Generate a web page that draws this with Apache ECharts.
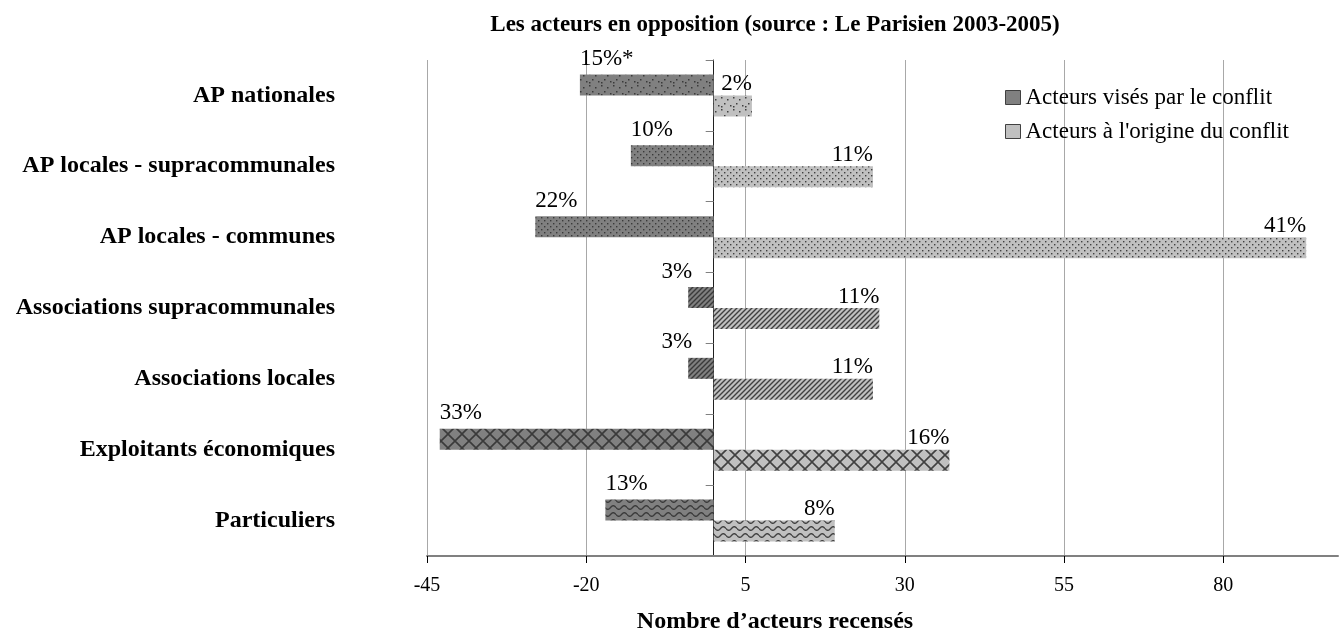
<!DOCTYPE html>
<html>
<head>
<meta charset="utf-8">
<script src="https://cdn.jsdelivr.net/npm/echarts@6/dist/echarts.min.js"></script>
<style>
  html, body { margin: 0; padding: 0; background: #ffffff; }
  #chart { width: 1342px; height: 630px; }
</style>
</head>
<body>
<div id="chart"></div>
<script>
// Actor categories, top to bottom
const categories = [
  'AP nationales',
  'AP locales - supracommunales',
  'AP locales - communes',
  'Associations supracommunales',
  'Associations locales',
  'Exploitants économiques',
  'Particuliers'
];
// Number of actors targeted by a conflict (drawn to the left of zero)
const visesValues = [-21, -13, -28, -4, -4, -43, -17];
// Number of actors initiating a conflict (drawn to the right of zero)
const origineValues = [6, 25, 93, 26, 25, 37, 19];
// Share labels printed next to each bar
const visesLabels = ['15%*', '10%', '22%', '3%', '3%', '33%', '13%'];
const origineLabels = ['2%', '11%', '41%', '11%', '11%', '16%', '8%'];
// Value axis range and tick step
const xMin = -45;
const xStep = 25;
const xMax = 98;
// Fill pattern used for each category row
const patternKinds = ['confetti', 'dots', 'dots', 'stripes', 'stripes', 'lattice', 'waves'];

const SERIF = '"Liberation Serif", "DejaVu Serif", serif';
const DARK_BG = '#808080';
const LIGHT_BG = '#c0c0c0';
const LABEL_SIZE = 23;

// Builds a small repeating canvas tile for a hatch/fill style
function makePattern(kind, bg, ink) {
  const c = document.createElement('canvas');
  let w = 8, h = 8;
  if (kind === 'confetti') { w = 12; h = 12; }
  if (kind === 'dots') { w = 6; h = 6; }
  if (kind === 'stripes') { w = 5; h = 5; }
  if (kind === 'lattice') { w = 14; h = 14; }
  if (kind === 'waves') { w = 11; h = 7; }
  c.width = w; c.height = h;
  const ctx = c.getContext('2d');
  ctx.fillStyle = bg;
  ctx.fillRect(0, 0, w, h);
  ctx.fillStyle = ink;
  ctx.strokeStyle = ink;
  if (kind === 'confetti') {
    [[1, 1], [7, 3], [4, 7], [10, 9], [1, 10]].forEach(function (p) {
      ctx.fillRect(p[0], p[1], 1.5, 1.5);
    });
  } else if (kind === 'dots') {
    ctx.fillRect(1, 1, 1.4, 1.4);
    ctx.fillRect(4, 4, 1.4, 1.4);
  } else if (kind === 'stripes') {
    ctx.lineWidth = 1.4;
    ctx.beginPath();
    ctx.moveTo(-1, h + 1); ctx.lineTo(w + 1, -1);
    ctx.moveTo(-1, 1); ctx.lineTo(1, -1);
    ctx.moveTo(w - 1, h + 1); ctx.lineTo(w + 1, h - 1);
    ctx.stroke();
  } else if (kind === 'lattice') {
    ctx.lineWidth = 1.6;
    ctx.beginPath();
    ctx.moveTo(0, 0); ctx.lineTo(w, h);
    ctx.moveTo(0, h); ctx.lineTo(w, 0);
    ctx.stroke();
  } else if (kind === 'waves') {
    ctx.lineWidth = 1.4;
    ctx.beginPath();
    for (let x = 0; x <= w; x += 0.5) {
      const y = h / 2 + 1.8 * Math.sin((x / w) * Math.PI * 2);
      if (x === 0) ctx.moveTo(x, y); else ctx.lineTo(x, y);
    }
    ctx.stroke();
  }
  return { image: c, repeat: 'repeat' };
}

// Width of a label string in the label font
const measureCtx = document.createElement('canvas').getContext('2d');
function textWidth(str) {
  measureCtx.font = LABEL_SIZE + 'px ' + SERIF;
  return measureCtx.measureText(str).width;
}

const chart = echarts.init(document.getElementById('chart'), null, { renderer: 'canvas' });

const labelText = { fontFamily: SERIF, fontSize: LABEL_SIZE, color: '#000' };

const option = {
  animation: false,
  backgroundColor: '#ffffff',
  title: [
    {
      text: 'Les acteurs en opposition (source : Le Parisien 2003-2005)',
      left: 770, top: 9, textAlign: 'center',
      textStyle: { fontFamily: SERIF, fontSize: 23, fontWeight: 'bold', color: '#000' }
    },
    {
      text: 'Nombre d’acteurs recensés',
      left: 770, top: 605, textAlign: 'center',
      textStyle: { fontFamily: SERIF, fontSize: 24, fontWeight: 'bold', color: '#000' }
    }
  ],
  legend: {
    orient: 'vertical',
    left: 1000, top: 81,
    itemWidth: 15, itemHeight: 14, itemGap: 11,
    icon: 'rect',
    itemStyle: { borderColor: '#404040', borderWidth: 1 },
    textStyle: { fontFamily: SERIF, fontSize: 23, color: '#000' },
    data: ['Acteurs visés par le conflit', 'Acteurs à l\'origine du conflit']
  },
  grid: { left: 427, right: 4, top: 60, bottom: 74, containLabel: false },
  xAxis: {
    type: 'value', min: xMin, max: xMax, interval: xStep,
    axisLine: { show: true, onZero: false, lineStyle: { color: '#808080', width: 2 } },
    axisTick: { show: true, length: 7, lineStyle: { color: '#000', width: 1 } },
    axisLabel: { margin: 20, showMaxLabel: false, fontFamily: SERIF, fontSize: 20, color: '#000' },
    splitLine: { show: true, showMaxLine: false, lineStyle: { color: '#a8a8a8', width: 1 } }
  },
  yAxis: [
    {
      // category names at the far left
      type: 'category', data: categories, inverse: true, position: 'left',
      axisLine: { show: false }, axisTick: { show: false },
      axisLabel: { margin: 92, fontFamily: SERIF, fontSize: 24, fontWeight: 'bold', color: '#000' }
    },
    {
      // vertical line with band ticks, moved back onto the zero value below
      type: 'category', data: categories, inverse: true, position: 'right',
      offset: 0,
      axisLine: { show: true, onZero: false, lineStyle: { color: '#202020', width: 1 } },
      axisTick: { show: true, inside: true, length: 8, lineStyle: { color: '#808080', width: 1 } },
      axisLabel: { show: false },
      splitLine: { show: false }
    }
  ],
  series: [
    {
      name: 'Acteurs visés par le conflit',
      type: 'bar', yAxisIndex: 0,
      barWidth: 21, barGap: '0%',
      itemStyle: { color: DARK_BG },
      data: visesValues.map(function (v, i) {
        return { value: v, itemStyle: { color: makePattern(patternKinds[i], DARK_BG, '#3a3a3a') } };
      }),
      label: Object.assign({
        show: true, position: [0, -4], align: 'left', verticalAlign: 'bottom',
        formatter: function (p) { return visesLabels[p.dataIndex]; }
      }, labelText)
    },
    {
      name: 'Acteurs à l\'origine du conflit',
      type: 'bar', yAxisIndex: 0,
      barWidth: 21, barGap: '0%',
      itemStyle: { color: LIGHT_BG },
      data: origineValues.map(function (v, i) {
        return { value: v, itemStyle: { color: makePattern(patternKinds[i], LIGHT_BG, '#404040') } };
      }),
      label: Object.assign({
        show: true, position: ['100%', 0], align: 'right', verticalAlign: 'bottom',
        formatter: function (p) { return origineLabels[p.dataIndex]; }
      }, labelText)
    }
  ]
};

chart.setOption(option);

// Second pass: place the zero line and keep short-bar labels clear of it
const zeroPx = chart.convertToPixel({ xAxisIndex: 0 }, 0);
const rightPx = chart.convertToPixel({ xAxisIndex: 0 }, xMax);
const pxPerUnit = (rightPx - zeroPx) / xMax;

chart.setOption({
  yAxis: [{}, { offset: zeroPx - rightPx }],
  series: [
    {
      data: visesValues.map(function (v, i) {
        const barW = Math.abs(v) * pxPerUnit;
        const labelW = textWidth(visesLabels[i]);
        const shift = labelW > barW - 4 ? 4 - labelW : 0;
        return {
          value: v,
          itemStyle: { color: makePattern(patternKinds[i], DARK_BG, '#3a3a3a') },
          label: { position: [shift, -4] }
        };
      })
    },
    {}
  ]
});
</script>
</body>
</html>
